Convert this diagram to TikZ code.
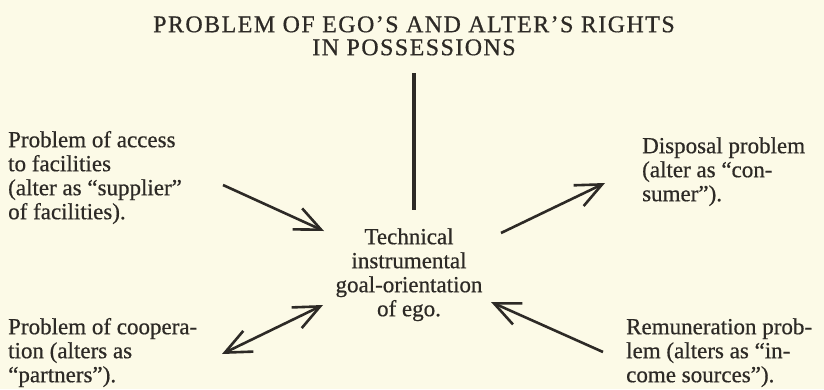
\documentclass[tikz,border=0pt]{standalone}
\usepackage{fontspec}
\setmainfont{Liberation Serif}[FakeBold=0.6]
\usetikzlibrary{arrows.meta}
\definecolor{paper}{RGB}{252,250,231}
\definecolor{ink}{RGB}{45,42,38}
\newcommand\tstrut{\rule{0pt}{17pt}}
\begin{document}
\begin{tikzpicture}[x=1pt,y=-1pt,
  txt/.style={inner sep=0pt, text=ink, font=\fontsize{23}{24}\selectfont},
  lbl/.style={txt, anchor=north west, align=left},
  ctr/.style={txt, anchor=north, align=center},
  ttl/.style={inner sep=0pt, text=ink, anchor=north, align=center,
    font=\fontsize{24}{23}\selectfont\addfontfeature{LetterSpace=6}},
  conn/.style={draw=ink, line width=2.6pt},
  barb/.tip={Straight Barb[length=26pt,width=23pt]},
  tipend/.style={-barb},
  tipboth/.style={barb-barb},
]
\fill[paper] (0,0) rectangle (824,389);
\useasboundingbox (0,0) rectangle (824,389);

\node[ttl] (title) at (414,15) {\tstrut PROBLEM OF EGO’S AND ALTER’S RIGHTS\\IN POSSESSIONS};
\node[ctr] (center) at (409,227) {\tstrut Technical\\instrumental\\goal-orientation\\of ego.};
\node[lbl] (access) at (8,130) {\tstrut Problem of access\\to facilities\\(alter as “supplier”\\of facilities).};
\node[lbl] (disposal) at (642,136) {\tstrut Disposal problem\\(alter as “con-\\sumer”).};
\node[lbl] (coop) at (8,317) {\tstrut Problem of coopera-\\tion (alters as\\“partners”).};
\node[lbl] (remun) at (626,317) {\tstrut Remuneration prob-\\lem (alters as “in-\\come sources”).};

\coordinate (v1) at (414,73);
\coordinate (v2) at (414,210);
\coordinate (a1s) at (223,185);
\coordinate (a1e) at (324,231);
\coordinate (a2s) at (501,233);
\coordinate (a2e) at (605,183);
\coordinate (a3s) at (222,354);
\coordinate (a3e) at (323,305);
\coordinate (a4s) at (603,352);
\coordinate (a4e) at (491,302);

\draw[conn, line width=3.2pt] (v1) -- (v2);
\draw[conn, tipend] (a1s) -- (a1e);
\draw[conn, tipend] (a2s) -- (a2e);
\draw[conn, tipboth] (a3s) -- (a3e);
\draw[conn, tipend] (a4s) -- (a4e);
\end{tikzpicture}
\end{document}
